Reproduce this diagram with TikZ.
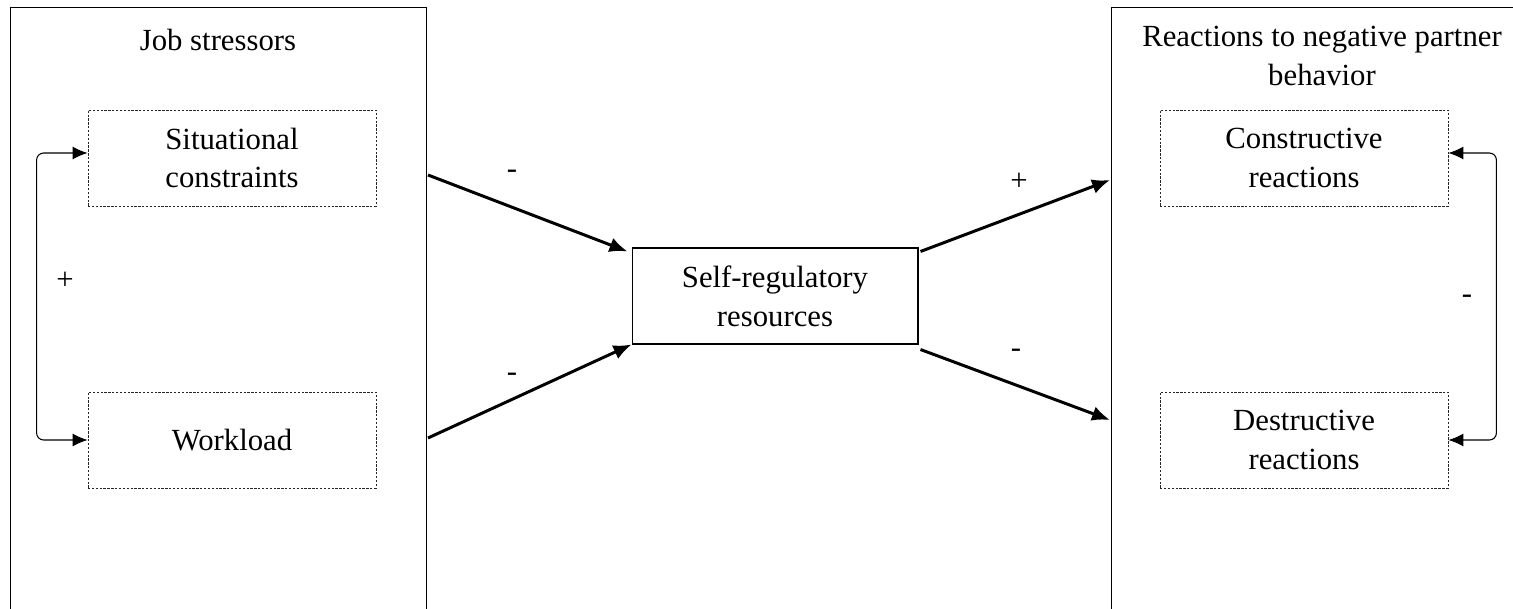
\documentclass[tikz,border=0pt]{standalone}
\usepackage{fontspec}
\setmainfont{Liberation Serif}
\usetikzlibrary{arrows.meta,positioning,calc}
\tikzset{
  group/.style={draw=black, line width=0.6pt, anchor=north west, inner sep=0pt},
  facet/.style={draw=black!85, line width=0.5pt, dash pattern=on 1.3pt off 0.9pt, align=center,
    minimum width=5.76cm, minimum height=1.92cm, inner sep=2pt},
  mediator/.style={draw=black, line width=0.6pt, align=center,
    minimum width=5.72cm, minimum height=1.92cm, inner sep=2pt},
  heading/.style={align=center, inner sep=0pt},
  effect/.style={-{Latex[length=0.36cm,width=0.3cm]}, line width=1.7pt},
  link/.style={{Latex[length=0.3cm,width=0.26cm]}-{Latex[length=0.3cm,width=0.26cm]},
    line width=0.6pt, rounded corners=4pt},
  sign/.style={inner sep=0pt}
}

\begin{document}
\begin{tikzpicture}[x=0.02cm, y=-0.02cm, font=\rmfamily\fontsize{17.5pt}{22pt}\selectfont]
  \useasboundingbox (0,0) rectangle (1513,608);
  \node[group, minimum width=8.32cm, minimum height=13cm] (stressbox) at (10,7) {};
  \node[group, minimum width=9cm, minimum height=13cm] (reactbox) at (1111,7) {};
  \node[heading] (stresshead) at (218,40) {Job stressors};
  \node[heading] (reacthead) at (1322,56) {Reactions to negative partner\\behavior};

  \node[facet] (sit) at (232,158) {Situational\\constraints};
  \node[facet] (work) at (232,440) {Workload};
  \node[mediator] (selfreg) at (775,296) {Self-regulatory\\resources};
  \node[facet] (cons) at (1304,158) {Constructive\\reactions};
  \node[facet] (dest) at (1304,440) {Destructive\\reactions};

  \coordinate (sitout) at (428,175);
  \coordinate (workout) at (428,438);
  \coordinate (consin) at (1110,180);
  \coordinate (destin) at (1110,420);

  \draw[effect] (sitout) -- ([shift={(-4,4)}]selfreg.north west);
  \draw[effect] (workout) -- (selfreg.south west);
  \draw[effect] ([shift={(2,4)}]selfreg.north east) -- (consin);
  \draw[effect] ([shift={(2,5)}]selfreg.south east) -- (destin);

  \draw[link] ([yshift=0.1cm]sit.west) -- ++(-51,0) |- (work.west);
  \draw[link] ([yshift=0.1cm]cons.east) -- ++(48,0) |- (dest.east);

  \node[sign] at (512,174) {-};
  \node[sign] at (512,377) {-};
  \node[sign] at (1019,182) {+};
  \node[sign] at (1016,353) {-};
  \node[sign] at (65,281) {+};
  \node[sign] at (1467,299) {-};
\end{tikzpicture}
\end{document}
